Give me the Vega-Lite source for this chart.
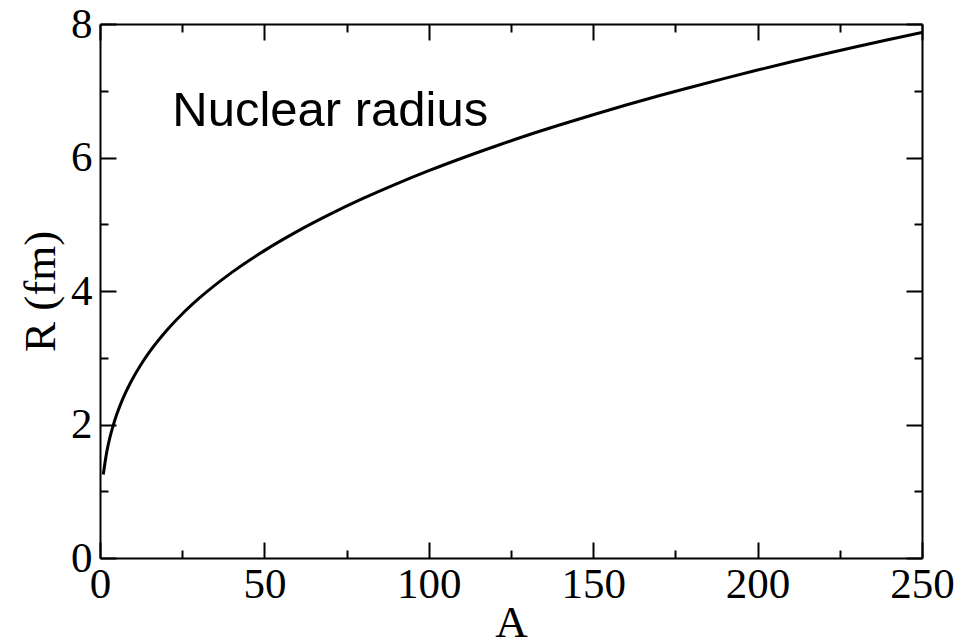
{
  "$schema": "https://vega.github.io/schema/vega-lite/v6.json",
  "width": 822,
  "height": 534,
  "autosize": {"type": "none"},
  "padding": {"left": 100, "top": 24, "right": 55, "bottom": 83},
  "background": "white",
  "config": {
    "view": {"stroke": null},
    "axis": {
      "domainColor": "black",
      "domainWidth": 2,
      "tickColor": "black",
      "tickWidth": 2,
      "grid": false,
      "labelFont": "Liberation Serif",
      "labelFontSize": 43,
      "labelColor": "black",
      "titleFont": "Liberation Serif",
      "titleFontSize": 45,
      "titleFontWeight": "normal",
      "titleColor": "black"
    }
  },
  "datasets": {
    "radius": [
      {"A": 1, "R": 1.25},
      {"A": 2, "R": 1.575},
      {"A": 3, "R": 1.803},
      {"A": 4, "R": 1.984},
      {"A": 5, "R": 2.137},
      {"A": 6, "R": 2.271},
      {"A": 7, "R": 2.391},
      {"A": 8, "R": 2.5},
      {"A": 9, "R": 2.6},
      {"A": 10, "R": 2.693},
      {"A": 12, "R": 2.862},
      {"A": 15, "R": 3.083},
      {"A": 20, "R": 3.393},
      {"A": 25, "R": 3.655},
      {"A": 30, "R": 3.884},
      {"A": 40, "R": 4.275},
      {"A": 50, "R": 4.605},
      {"A": 60, "R": 4.893},
      {"A": 70, "R": 5.151},
      {"A": 80, "R": 5.386},
      {"A": 90, "R": 5.601},
      {"A": 100, "R": 5.802},
      {"A": 110, "R": 5.989},
      {"A": 120, "R": 6.165},
      {"A": 130, "R": 6.333},
      {"A": 140, "R": 6.49},
      {"A": 150, "R": 6.641},
      {"A": 160, "R": 6.786},
      {"A": 170, "R": 6.925},
      {"A": 180, "R": 7.057},
      {"A": 190, "R": 7.186},
      {"A": 200, "R": 7.31},
      {"A": 210, "R": 7.43},
      {"A": 220, "R": 7.546},
      {"A": 230, "R": 7.659},
      {"A": 240, "R": 7.768},
      {"A": 250, "R": 7.875}
    ],
    "note": [
      {"A": 22, "R": 6.47, "label": "Nuclear radius"}
    ]
  },
  "layer": [
    {
      "data": {"name": "radius"},
      "mark": {"type": "line", "color": "black", "strokeWidth": 3, "interpolate": "monotone", "clip": true},
      "encoding": {
        "x": {
          "field": "A", "type": "quantitative",
          "scale": {"domain": [0, 250], "nice": false, "zero": false},
          "axis": {
            "orient": "bottom",
            "title": "A",
            "values": [0, 25, 50, 75, 100, 125, 150, 175, 200, 225, 250],
            "labelExpr": "datum.value % 50 === 0 ? datum.label : ''",
            "tickSize": {"condition": {"test": "datum.value % 50 !== 0", "value": -8}, "value": -16},
            "labelPadding": 21,
            "labelFlush": false,
            "labelOverlap": false,
            "titleBaseline": "alphabetic",
            "titleX": 411,
            "titleY": 78
          }
        },
        "y": {
          "field": "R", "type": "quantitative",
          "scale": {"domain": [0, 8], "nice": false, "zero": false},
          "axis": {
            "orient": "left",
            "title": "R (fm)",
            "values": [0, 1, 2, 3, 4, 5, 6, 7, 8],
            "labelExpr": "datum.value % 2 === 0 ? datum.label : ''",
            "tickSize": {"condition": {"test": "datum.value % 2 !== 0", "value": -8}, "value": -16},
            "labelPadding": 24,
            "labelFlush": false,
            "labelOverlap": false,
            "titleAngle": -90,
            "titleBaseline": "alphabetic",
            "titleAlign": "center",
            "titleX": -46,
            "titleY": 267
          }
        }
      }
    },
    {
      "data": {"name": "radius"},
      "mark": {"type": "line", "strokeOpacity": 0},
      "encoding": {
        "x": {
          "field": "A", "type": "quantitative",
          "axis": {
            "orient": "top",
            "title": null,
            "labels": false,
            "values": [0, 25, 50, 75, 100, 125, 150, 175, 200, 225, 250],
            "tickSize": {"condition": {"test": "datum.value % 50 !== 0", "value": -8}, "value": -16}
          }
        },
        "y": {
          "field": "R", "type": "quantitative",
          "axis": {
            "orient": "right",
            "title": null,
            "labels": false,
            "values": [0, 1, 2, 3, 4, 5, 6, 7, 8],
            "tickSize": {"condition": {"test": "datum.value % 2 !== 0", "value": -8}, "value": -16}
          }
        }
      }
    },
    {
      "data": {"name": "note"},
      "mark": {"type": "text", "font": "Liberation Sans", "fontSize": 49, "align": "left", "baseline": "alphabetic", "color": "black"},
      "encoding": {
        "x": {"field": "A", "type": "quantitative", "axis": null},
        "y": {"field": "R", "type": "quantitative", "axis": null},
        "text": {"field": "label"}
      }
    }
  ],
  "resolve": {"axis": {"x": "independent", "y": "independent"}}
}
